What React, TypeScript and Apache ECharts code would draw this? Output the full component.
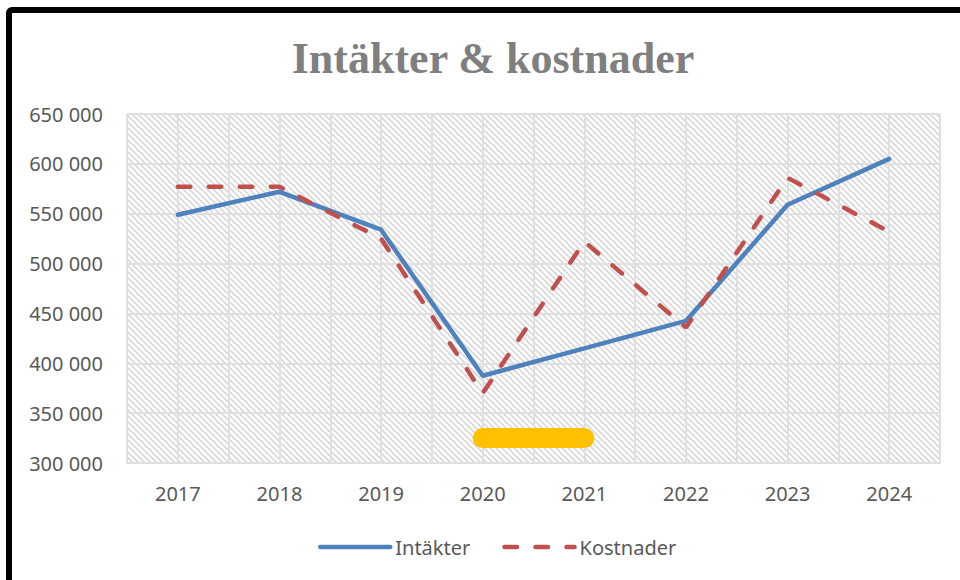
import React, { useEffect, useRef } from "react";
import * as echarts from "echarts";

const years = ["2017", "2018", "2019", "2020", "2021", "2022", "2023", "2024"];
const revenue = [549000, 572000, 534000, 387500, 415000, 442500, 559000, 605000];
const costs = [577000, 577000, 525000, 370000, 522000, 436000, 586000, 532000];
const highlight = [null, null, null, 325000, 325000, null, null, null];
const yMin = 300000;
const yMax = 650000;
const yStep = 50000;

function makeHatch(): HTMLCanvasElement {
  const s = 6;
  const c = document.createElement("canvas");
  c.width = s;
  c.height = s;
  const ctx = c.getContext("2d")!;
  ctx.fillStyle = "#ffffff";
  ctx.fillRect(0, 0, s, s);
  ctx.strokeStyle = "#d8d8d8";
  ctx.lineWidth = 1.6;
  ctx.beginPath();
  ctx.moveTo(-1, -1);
  ctx.lineTo(s + 1, s + 1);
  ctx.moveTo(s - 1, -1);
  ctx.lineTo(s + 1, 1);
  ctx.moveTo(-1, s - 1);
  ctx.lineTo(1, s + 1);
  ctx.stroke();
  return c;
}

const fmt = (v: number) => String(v).replace(/\B(?=(\d{3})+(?!\d))/g, " ");

export default function App() {
  const ref = useRef<HTMLDivElement>(null);
  useEffect(() => {
    document.body.style.margin = "0";
    const chart = echarts.init(ref.current!, undefined, { renderer: "svg" });
    const hatch = makeHatch();
    const gridColor = "#e0e0e0";
    const labelFont = { fontFamily: "Noto Sans", fontSize: 20, color: "#595959" };
    chart.setOption({
      animation: false,
      backgroundColor: "#ffffff",
      title: {
        text: "Intäkter & kostnader",
        left: 488,
        textAlign: "center",
        top: 31,
        textStyle: {
          fontFamily: "Liberation Serif",
          fontWeight: "bold",
          fontSize: 44,
          color: "#7f7f7f",
        },
      },
      legend: {
        data: ["Intäkter", "Kostnader"],
        left: 313,
        top: 532,
        itemWidth: 70,
        itemHeight: 20,
        itemGap: 32,
        itemStyle: { opacity: 0 },
        lineStyle: { width: 4.5 },
        textStyle: labelFont,
      },
      grid: {
        left: 127,
        right: 20,
        top: 114,
        bottom: 117,
        show: true,
        borderWidth: 0,
        backgroundColor: { image: hatch, repeat: "repeat", imageWidth: 6, imageHeight: 6 },
      },
      xAxis: [
        {
          type: "category",
          data: years,
          boundaryGap: true,
          axisLine: { show: true, lineStyle: { color: gridColor, width: 2 } },
          axisTick: { show: false },
          axisLabel: { ...labelFont, margin: 20 },
          splitLine: { show: false },
        },
        {
          type: "value",
          min: 0,
          max: 16,
          interval: 1,
          axisLine: { show: false },
          axisTick: { show: false },
          axisLabel: { show: false },
          splitLine: { show: true, lineStyle: { color: gridColor, width: 2 } },
        },
      ],
      yAxis: {
        type: "value",
        min: yMin,
        max: yMax,
        interval: yStep,
        axisLine: { show: false },
        axisTick: { show: false },
        axisLabel: { ...labelFont, margin: 24, formatter: (v: number) => fmt(v) },
        splitLine: { show: true, lineStyle: { color: gridColor, width: 2 } },
      },
      graphic: [
        {
          type: "rect",
          shape: { x: 9, y: 10, width: 1000, height: 1000, r: 3 },
          style: { fill: "none", stroke: "#000000", lineWidth: 6 },
          silent: true,
        },
      ],
      series: [
        {
          name: "highlight",
          type: "line",
          data: highlight,
          symbol: "none",
          silent: true,
          lineStyle: { color: "#ffc000", width: 20, cap: "round" },
          itemStyle: { color: "#ffc000" },
          z: 1,
        },
        {
          name: "Intäkter",
          type: "line",
          data: revenue,
          symbol: "none",
          lineStyle: { color: "#4f81bd", width: 4.5, cap: "round" },
          itemStyle: { color: "#4f81bd" },
          z: 2,
        },
        {
          name: "Kostnader",
          type: "line",
          data: costs,
          symbol: "none",
          lineStyle: { color: "#c0504d", width: 4.5, type: [12.5, 18.5], cap: "round" },
          itemStyle: { color: "#c0504d" },
          z: 3,
        },
      ],
    });
    return () => chart.dispose();
  }, []);
  return <div ref={ref} style={{ width: 960, height: 580 }} />;
}
